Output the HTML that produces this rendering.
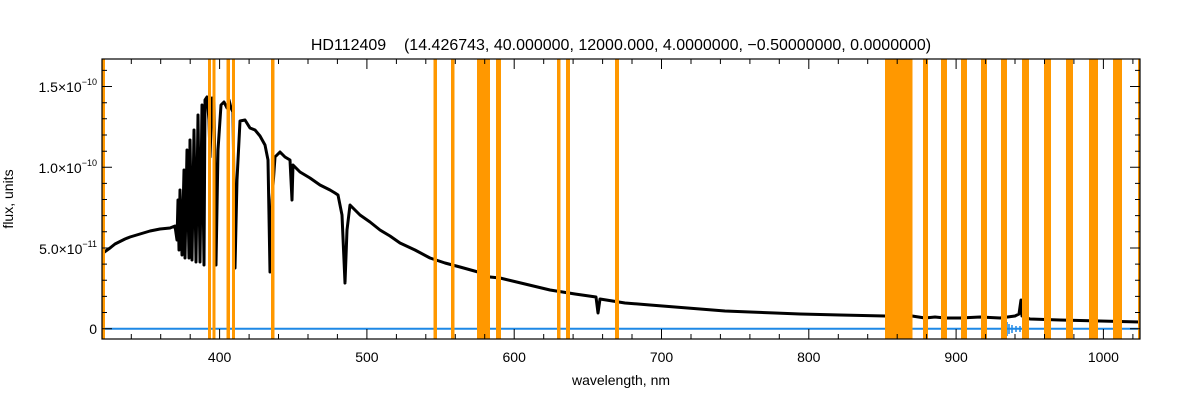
<!DOCTYPE html>
<html><head><style>body{margin:0;background:#fff}svg{display:block}text{font-family:"Liberation Sans",sans-serif;fill:#000}</style></head><body>
<svg width="1200" height="400" viewBox="0 0 1200 400">
<rect width="1200" height="400" fill="#fff"/>
<text x="621" y="50" font-size="16" text-anchor="middle" xml:space="preserve">HD112409    (14.426743, 40.000000, 12000.000, 4.0000000, −0.50000000, 0.0000000)</text>
<line x1="102" y1="328.7" x2="1140" y2="328.7" stroke="#1e88e5" stroke-width="2"/>
<g stroke="#1e88e5" stroke-width="1.5"><path d="M1007,322v14M1009,324v10M1012,325v8M1016,326v6M1020,326v6M1025,327v4"/></g>
<polyline fill="none" stroke="#000" stroke-width="3" stroke-linejoin="round" points="
103,253 110,248 115,244 125,239 130,237 140,234 150,231 160,229 170,228 175,226 177,240 178,200 179,250 180,190 182,255 184,170 185,258 187,150 189,258 190,140 192,260 194,130 196,262 198,115 200,262 202,105 204,265 205,100 207,97 209,120 210,157 212,98 214,100 216,265 218,150 221,105 224,102 227,108 229,100 231,108 233,112 235,268 237,180 240,121 245,120 250,128 255,130 260,136 265,145 268,160 270,272 272,200 275,157 280,152 285,157 290,160 292,200 293,165 300,172 310,178 320,185 330,190 335,193 338,195 342,215 345,283 347,230 350,205 355,210 360,215 370,222 380,230 390,236 400,243 415,250 430,258 445,263 460,267 478,272 480,276 500,278 525,284 550,290 575,294 596,297 598,313 600,299 625,303 650,305 675,307 700,309 725,311 750,312 775,313 800,314 840,315 885,316 912,316 925,318 935,317 945,318 960,318 980,317 1000,318 1015,316 1019,314 1021,300 1022,316 1030,319 1060,320 1100,321 1140,322"/>
<g fill="#ff9800">
<rect x="102" y="59" width="3" height="280"/>
<rect x="208" y="59" width="3" height="280"/><rect x="212.5" y="59" width="3" height="280"/>
<rect x="226.5" y="59" width="3.5" height="280"/><rect x="232" y="59" width="3" height="280"/>
<rect x="271" y="59" width="3.5" height="280"/>
<rect x="433.5" y="59" width="3.5" height="280"/><rect x="451" y="59" width="3.5" height="280"/>
<rect x="477" y="59" width="13" height="280"/><rect x="496" y="59" width="5" height="280"/>
<rect x="557" y="59" width="3.5" height="280"/><rect x="566" y="59" width="4" height="280"/>
<rect x="615" y="59" width="4" height="280"/>
<rect x="885" y="59" width="27.5" height="280"/>
<rect x="923" y="59" width="5" height="280"/><rect x="941" y="59" width="6" height="280"/>
<rect x="961" y="59" width="6" height="280"/><rect x="981" y="59" width="6" height="280"/>
<rect x="1001" y="59" width="6" height="280"/><rect x="1022" y="59" width="7" height="280"/>
<rect x="1044" y="59" width="7" height="280"/><rect x="1066" y="59" width="7" height="280"/>
<rect x="1089" y="59" width="9" height="280"/><rect x="1113" y="59" width="9" height="280"/>
<rect x="1138" y="59" width="2" height="280"/>
</g>
<rect x="102" y="59" width="1038" height="280" fill="none" stroke="#000" stroke-width="1.2"/>
<g stroke="#000" stroke-width="1">
<path d="M102,328.7h10M1140,328.7h-10M102,248h10M1140,248h-10M102,167.3h10M1140,167.3h-10M102,86.5h10M1140,86.5h-10"/>
<path d="M102,312.5h5M102,296.4h5M102,280.2h5M102,264.1h5M102,231.8h5M102,215.6h5M102,199.5h5M102,183.4h5M102,151.2h5M102,135h5M102,118.8h5M102,102.7h5M102,70.4h5
M1140,312.5h-5M1140,296.4h-5M1140,280.2h-5M1140,264.1h-5M1140,231.8h-5M1140,215.6h-5M1140,199.5h-5M1140,183.4h-5M1140,151.2h-5M1140,135h-5M1140,118.8h-5M1140,102.7h-5M1140,70.4h-5"/>
<path d="M219.6,339v-10M366.9,339v-10M514.2,339v-10M661.5,339v-10M808.8,339v-10M956.1,339v-10M1103.4,339v-10
M219.6,59v10M366.9,59v10M514.2,59v10M661.5,59v10M808.8,59v10M956.1,59v10M1103.4,59v10"/>
<path d="M131.3,339v-5M160.7,339v-5M190.2,339v-5M249.1,339v-5M278.5,339v-5M308,339v-5M337.4,339v-5M396.4,339v-5M425.8,339v-5M455.3,339v-5M484.7,339v-5M543.7,339v-5M573.1,339v-5M602.6,339v-5M632,339v-5M691,339v-5M720.4,339v-5M749.9,339v-5M779.3,339v-5M838.3,339v-5M867.7,339v-5M897.2,339v-5M926.6,339v-5M985.6,339v-5M1015,339v-5M1044.5,339v-5M1073.9,339v-5M1132.9,339v-5
M131.3,59v5M160.7,59v5M190.2,59v5M249.1,59v5M278.5,59v5M308,59v5M337.4,59v5M396.4,59v5M425.8,59v5M455.3,59v5M484.7,59v5M543.7,59v5M573.1,59v5M602.6,59v5M632,59v5M691,59v5M720.4,59v5M749.9,59v5M779.3,59v5M838.3,59v5M867.7,59v5M897.2,59v5M926.6,59v5M985.6,59v5M1015,59v5M1044.5,59v5M1073.9,59v5M1132.9,59v5"/>
</g>
<g font-size="14" text-anchor="middle">
<text x="219.6" y="362">400</text><text x="366.9" y="362">500</text><text x="514.2" y="362">600</text><text x="661.5" y="362">700</text><text x="808.8" y="362">800</text><text x="956.1" y="362">900</text><text x="1103.4" y="362">1000</text>
<text x="621" y="385">wavelength, nm</text>
</g>
<g font-size="14" text-anchor="end">
<text x="97" y="334">0</text>
<text x="97" y="254">5.0×10<tspan font-size="9" dy="-7">−11</tspan></text>
<text x="97" y="173">1.0×10<tspan font-size="9" dy="-7">−10</tspan></text>
<text x="97" y="92">1.5×10<tspan font-size="9" dy="-7">−10</tspan></text>
</g>
<text font-size="14" text-anchor="middle" transform="translate(13,199) rotate(-90)">flux, units</text>
</svg>
</body></html>
